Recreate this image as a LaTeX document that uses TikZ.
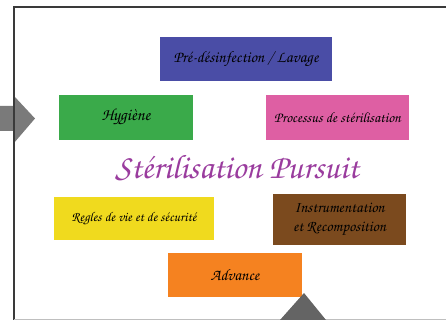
\documentclass[tikz,border=0pt]{standalone}
\usetikzlibrary{positioning}
\newcommand{\scriptfnt}{\fontencoding{T1}\fontfamily{pzc}\fontseries{mb}\fontshape{it}\selectfont}
\definecolor{cblue}{HTML}{4A4DA6}
\definecolor{cgreen}{HTML}{3AAA4A}
\definecolor{cpink}{HTML}{DE5FA3}
\definecolor{cyellow}{HTML}{F0DA1E}
\definecolor{cbrown}{HTML}{7B4A1E}
\definecolor{corange}{HTML}{F58220}
\definecolor{ctitle}{HTML}{9A3C9E}
\definecolor{cgrayarrow}{HTML}{7A7A7A}
\definecolor{cgraydark}{HTML}{646464}
\definecolor{cframe}{HTML}{3A3A3A}
\begin{document}
\begin{tikzpicture}[x=1pt,y=-1pt,
  box/.style={draw=none,inner sep=0pt,minimum width=#1,text=black,align=center},
  box/.default=134pt,
  fs/.style={font=\scriptfnt\fontsize{#1}{#1}\selectfont}]
\useasboundingbox (0,0) rectangle (446,320);
\fill[white] (0,0) rectangle (446,320);
% frame
\coordinate (ftr) at (446,7);
\coordinate (ftl) at (14,7);
\coordinate (fbl) at (14,320);
\draw[cframe,line width=2pt] (ftr) -- (ftl) -- (fbl);
\draw[black!25,line width=1pt] (14,319.5) -- (446,319.5);
% left arrow
\fill[cgrayarrow] (0,106) -- (14,106) -- (14,96) -- (35,118.5) -- (14,143) -- (14,131) -- (0,131) -- cycle;
\draw[cframe,line width=2pt] (14,94) -- (14,145);
% boxes
\node[box=172pt,fill=cblue,minimum height=44pt,fs=16] (pre) at (246,59) {Pré-désinfection / Lavage};
\node[box=134pt,fill=cgreen,minimum height=45pt,fs=17] (hyg) at (126,117.5) {Hygiène};
\node[box=143pt,fill=cpink,minimum height=45pt,fs=14.5] (proc) at (337.5,117.5) {Processus de stérilisation};
\node[text=ctitle,fs=34,inner sep=0pt] (title) at (237,168) {Stérilisation Pursuit};
\node[box=160pt,fill=cyellow,minimum height=43pt,fs=13.5] (regl) at (134,218.5) {Regles de vie et de sécurité};
\node[box=133pt,fill=cbrown,minimum height=51pt,fs=15.5,text=black] (instr) at (339.5,219.5) {Instrumentation\\[3pt] et Recomposition};
\node[box=134pt,fill=corange,minimum height=44pt,fs=16] (adv) at (235,275) {Advance};
% bottom arrow (cut)
\fill[cgraydark] (280,320) -- (304,293) -- (326,320) -- cycle;
\end{tikzpicture}
\end{document}
